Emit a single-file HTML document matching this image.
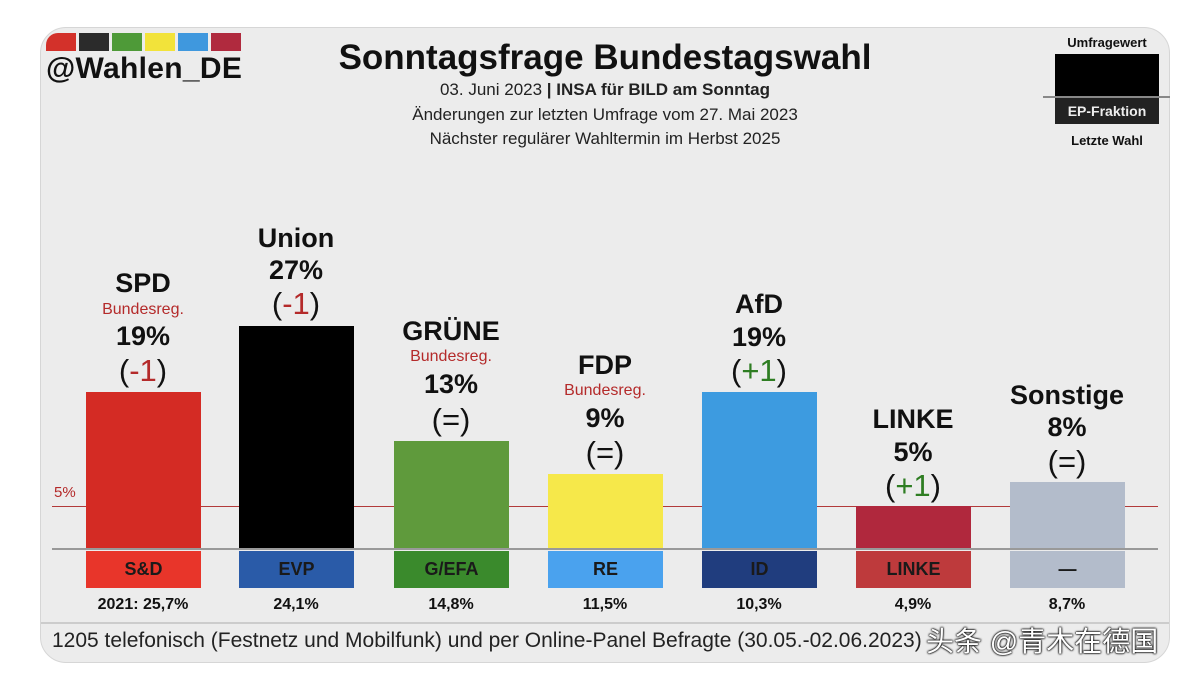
<!DOCTYPE html>
<html><head><meta charset="utf-8"><style>
body{margin:0;width:1196px;height:680px;background:#fff;position:relative;overflow:hidden;font-family:"Liberation Sans","Noto Sans CJK SC",sans-serif;}
.card{position:absolute;left:40px;top:27px;width:1130px;height:636px;background:#ececec;border:1.5px solid #d6d6d6;border-radius:26px;box-sizing:border-box;}
.t{position:absolute;line-height:1;white-space:nowrap;transform:translateX(-50%);text-align:center;color:#111;}
.b{font-weight:bold}
.bar{position:absolute;width:115px;}
.f{position:absolute;width:115px;top:551px;height:37px;font-weight:bold;font-size:18px;line-height:37px;text-align:center;color:#1a1a1a;}
.red{color:#b42a2a}.grn{color:#2e7d22}
</style></head><body>
<div class="card"></div>
<div style="position:absolute;left:46px;top:33px;width:30px;height:18px;background:#d3312a;border-top-left-radius:12px"></div>
<div style="position:absolute;left:79px;top:33px;width:30px;height:18px;background:#2b2b2b"></div>
<div style="position:absolute;left:112px;top:33px;width:30px;height:18px;background:#4e9a38"></div>
<div style="position:absolute;left:145px;top:33px;width:30px;height:18px;background:#f2e33a"></div>
<div style="position:absolute;left:178px;top:33px;width:30px;height:18px;background:#3f98de"></div>
<div style="position:absolute;left:211px;top:33px;width:30px;height:18px;background:#b02a3e"></div>
<div style="position:absolute;left:46px;top:54px;font-size:30px;font-weight:bold;color:#111;line-height:1;letter-spacing:0.3px">@Wahlen_DE</div>
<div class="t b" style="left:605px;top:40px;font-size:35px">Sonntagsfrage Bundestagswahl</div>
<div class="t" style="left:605px;top:81px;font-size:17px;color:#222">03. Juni 2023 <b>| INSA für BILD am Sonntag</b></div>
<div class="t" style="left:605px;top:106px;font-size:17px;color:#222">Änderungen zur letzten Umfrage vom 27. Mai 2023</div>
<div class="t" style="left:605px;top:130px;font-size:17px;color:#222">Nächster regulärer Wahltermin im Herbst 2025</div>
<div class="t b" style="left:1107px;top:36px;font-size:13px">Umfragewert</div>
<div style="position:absolute;left:1055px;top:54px;width:104px;height:42px;background:#000"></div>
<div style="position:absolute;left:1043px;top:96px;width:127px;height:2px;background:#888"></div>
<div style="position:absolute;left:1055px;top:98px;width:104px;height:26px;background:#222;color:#eee;font-weight:bold;font-size:14px;line-height:26px;text-align:center">EP-Fraktion</div>
<div class="t b" style="left:1107px;top:134px;font-size:13px">Letzte Wahl</div>
<div style="position:absolute;left:52px;top:506px;width:1106px;height:1px;background:#b23a3a"></div>
<div class="red" style="position:absolute;left:54px;top:485px;font-size:15px;line-height:1">5%</div>
<div class="bar" style="left:86px;top:392px;height:157px;background:#d42b24"></div>
<div class="bar" style="left:239px;top:326px;height:223px;background:#000"></div>
<div class="bar" style="left:394px;top:441px;height:108px;background:#5f9a3c"></div>
<div class="bar" style="left:548px;top:474px;height:75px;background:#f6e84a"></div>
<div class="bar" style="left:702px;top:392px;height:157px;background:#3d9be0"></div>
<div class="bar" style="left:856px;top:506px;height:43px;background:#b0283d"></div>
<div class="bar" style="left:1010px;top:482px;height:67px;background:#b3bccb"></div>
<div style="position:absolute;left:52px;top:548px;width:1106px;height:2px;background:#999"></div>
<div class="f" style="left:86px;background:#e8352a">S&amp;D</div>
<div class="f" style="left:239px;background:#2a5ba8">EVP</div>
<div class="f" style="left:394px;background:#3a8a2c">G/EFA</div>
<div class="f" style="left:548px;background:#4aa2ee">RE</div>
<div class="f" style="left:702px;background:#203d7e">ID</div>
<div class="f" style="left:856px;background:#be3a3c">LINKE</div>
<div class="f" style="left:1010px;background:#b3bccb">—</div>
<div class="t b" style="left:143px;top:597px;font-size:16px">2021: 25,7%</div>
<div class="t b" style="left:296px;top:597px;font-size:16px">24,1%</div>
<div class="t b" style="left:451px;top:597px;font-size:16px">14,8%</div>
<div class="t b" style="left:605px;top:597px;font-size:16px">11,5%</div>
<div class="t b" style="left:759px;top:597px;font-size:16px">10,3%</div>
<div class="t b" style="left:913px;top:597px;font-size:16px">4,9%</div>
<div class="t b" style="left:1067px;top:597px;font-size:16px">8,7%</div>
<div style="position:absolute;left:41px;top:622px;width:1128px;height:2px;background:#ccc"></div>
<div style="position:absolute;left:52px;top:630px;font-size:21px;color:#222;line-height:1;white-space:nowrap">1205 telefonisch (Festnetz und Mobilfunk) und per Online-Panel Befragte (30.05.-02.06.2023)</div>
<div style="position:absolute;left:926px;top:628px;font-size:28px;color:#fff;line-height:1;white-space:nowrap;text-shadow:0 0 2px #000,0 0 2px #000,0 0 1px #000">头条 @青木在德国</div>
<div class="t b" style="left:143px;top:270px;font-size:27px">SPD</div>
<div class="t red" style="left:143px;top:302px;font-size:16px">Bundesreg.</div>
<div class="t b" style="left:143px;top:323px;font-size:27px">19%</div>
<div class="t" style="left:143px;top:355px;font-size:31px">(<span class="red">-1</span>)</div>
<div class="t b" style="left:296px;top:225px;font-size:27px">Union</div>
<div class="t b" style="left:296px;top:257px;font-size:27px">27%</div>
<div class="t" style="left:296px;top:288px;font-size:31px">(<span class="red">-1</span>)</div>
<div class="t b" style="left:451px;top:318px;font-size:27px">GRÜNE</div>
<div class="t red" style="left:451px;top:349px;font-size:16px">Bundesreg.</div>
<div class="t b" style="left:451px;top:371px;font-size:27px">13%</div>
<div class="t" style="left:451px;top:404px;font-size:31px">(=)</div>
<div class="t b" style="left:605px;top:352px;font-size:27px">FDP</div>
<div class="t red" style="left:605px;top:383px;font-size:16px">Bundesreg.</div>
<div class="t b" style="left:605px;top:405px;font-size:27px">9%</div>
<div class="t" style="left:605px;top:437px;font-size:31px">(=)</div>
<div class="t b" style="left:759px;top:291px;font-size:27px">AfD</div>
<div class="t b" style="left:759px;top:324px;font-size:27px">19%</div>
<div class="t" style="left:759px;top:355px;font-size:31px">(<span class="grn">+1</span>)</div>
<div class="t b" style="left:913px;top:406px;font-size:27px">LINKE</div>
<div class="t b" style="left:913px;top:439px;font-size:27px">5%</div>
<div class="t" style="left:913px;top:470px;font-size:31px">(<span class="grn">+1</span>)</div>
<div class="t b" style="left:1067px;top:382px;font-size:27px">Sonstige</div>
<div class="t b" style="left:1067px;top:414px;font-size:27px">8%</div>
<div class="t" style="left:1067px;top:446px;font-size:31px">(=)</div>
</body></html>
